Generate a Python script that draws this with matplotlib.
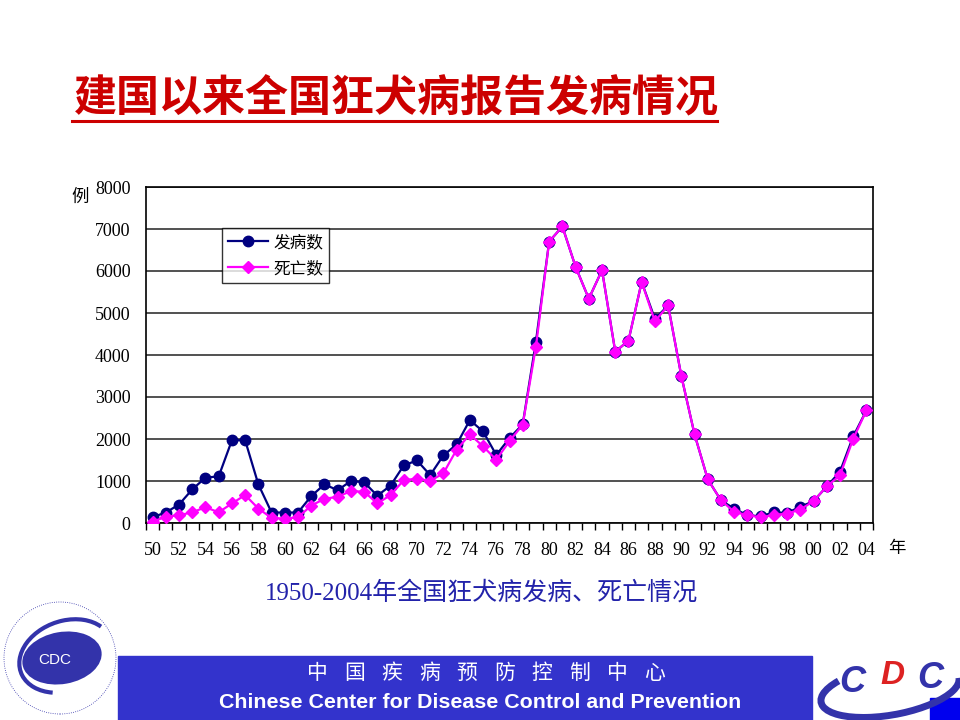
import matplotlib
matplotlib.use('Agg')
import matplotlib.pyplot as plt
from matplotlib.patches import Rectangle, Ellipse, Arc

plt.rcParams['font.family'] = ['Noto Sans CJK SC', 'DejaVu Sans']

# data (cases / deaths per year, 1950-2004)
years = list(range(1950, 2005))
tick_labels = ["%02d" % (y % 100) for y in years[::2]]
cases = [140, 250, 440, 800, 1080, 1110, 1970, 1970, 920, 250,
         250, 250, 640, 920, 780, 1000, 970, 650, 890, 1370,
         1490, 1140, 1610, 1870, 2450, 2180, 1620, 2020, 2350, 4320,
         6700, 7060, 6100, 5340, 6020, 4080, 4340, 5740, 4860, 5180,
         3500, 2110, 1040, 540, 340, 185, 160, 255, 240, 385,
         520, 870, 1220, 2060, 2680]
deaths = [30, 150, 185, 255, 375, 255, 465, 665, 345, 120,
          105, 135, 415, 575, 625, 760, 745, 465, 665, 1020,
          1055, 1000, 1185, 1745, 2110, 1825, 1505, 1950, 2340, 4200,
          6700, 7060, 6100, 5340, 6020, 4080, 4340, 5740, 4800, 5180,
          3500, 2110, 1040, 540, 265, 185, 135, 190, 225, 320,
          520, 870, 1135, 2000, 2680]
series_names = ["发病数", "死亡数"]
banner_cn = "中国疾病预防控制中心"

NUM_FONT = 'Liberation Serif'

fig = plt.figure(figsize=(9.6, 7.2), dpi=100)
fig.patch.set_facecolor('white')

# chart
ax = fig.add_axes([146 / 960, 197 / 720, 727 / 960, 336 / 720])
x = list(range(len(years)))
ax.plot(x, cases, color='#000080', lw=1.6, marker='o', ms=7.5,
        mfc='#000080', mec='#000080', label=series_names[0], zorder=3)
ax.plot(x, deaths, color='#FF00FF', lw=1.6, marker='D', ms=6.5,
        mfc='#FF00FF', mec='#FF00FF', label=series_names[1], zorder=4)

ax.set_xlim(-0.5, len(years) - 0.5)
ax.set_ylim(0, 8000)
ax.set_yticks(range(0, 8001, 1000))
ax.set_yticklabels([str(v) for v in range(0, 8001, 1000)], fontname=NUM_FONT, fontsize=13)
ax.set_xticks(x[::2])
ax.set_xticklabels(tick_labels, fontname=NUM_FONT, fontsize=13)
ax.set_xticks([i - 0.5 for i in range(len(years) + 1)], minor=True)
ax.tick_params(axis='x', which='major', length=0, pad=14)
ax.tick_params(axis='x', which='minor', length=5, direction='out', width=1)
ax.tick_params(axis='y', length=0, pad=11)
ax.yaxis.grid(True, color='#333333', lw=1.2)
ax.set_axisbelow(True)
for s in ax.spines.values():
    s.set_color('black')
    s.set_linewidth(1.2)

leg = ax.legend(loc='upper left', bbox_to_anchor=(76 / 727, 295 / 336),
                prop={'family': ['Noto Sans CJK SC'], 'size': 12},
                frameon=True, fancybox=False, edgecolor='black',
                borderpad=0.35, handlelength=2.4, labelspacing=0.55,
                handletextpad=0.35, borderaxespad=0)
leg.get_frame().set_linewidth(1.0)

fig.text(80 / 960, 1 - 197 / 720, "例", fontsize=12.5, ha='center', va='center')
fig.text(897 / 960, 1 - 548 / 720, "年", fontsize=12.5, ha='center', va='center')

# title with underline
fig.text(74 / 960, 1 - 98 / 720, "建国以来全国狂犬病报告发病情况", color='#CC0000',
         fontsize=31, fontweight='bold', ha='left', va='center')
fig.add_artist(plt.Line2D([72 / 960, 717 / 960], [1 - 121 / 720] * 2,
                          color='#CC0000', lw=2.2))

# caption
fig.text(481 / 960, 1 - 593 / 720, "1950-2004年全国狂犬病发病、死亡情况",
         color='#2222AA', fontsize=18, ha='center', va='center',
         family=[NUM_FONT, 'Noto Sans CJK SC'])

# bottom banner
fig.add_artist(Rectangle((118 / 960, 0), (812 - 118) / 960, 64 / 720,
                         transform=fig.transFigure, color='#3333CC', zorder=0))
for i, ch in enumerate(banner_cn):
    fig.text((317 + i * 37.5) / 960, 1 - 673 / 720, ch, color='white',
             fontsize=15, ha='center', va='center')
fig.text(480 / 960, 1 - 703 / 720, "Chinese Center for Disease Control and Prevention",
         color='white', fontsize=15.4, fontweight='bold', ha='center', va='center',
         family=['Liberation Sans'])

# left logo (rough)
lg = fig.add_axes([0, 0, 125 / 960, 130 / 720])
lg.set_xlim(0, 125)
lg.set_ylim(0, 130)
lg.axis('off')
lg.add_patch(Ellipse((60, 62), 112, 112, fill=False, ec='#3333AA', lw=0.6, ls=':'))
lg.add_patch(Ellipse((62, 62), 80, 52, fc='#3333AA', ec='none', angle=10))
lg.add_patch(Arc((66, 64), 96, 70, angle=20, theta1=20, theta2=230, color='#3333AA', lw=3))
lg.text(55, 60, "CDC", color='white', fontsize=11, ha='center', va='center',
        family=['Liberation Sans'])

# right logo (rough)
rg = fig.add_axes([812 / 960, 0, 148 / 960, 70 / 720])
rg.set_xlim(0, 148)
rg.set_ylim(0, 70)
rg.axis('off')
rg.add_patch(Rectangle((118, 0), 30, 22, color='#0000EE'))
rg.add_patch(Arc((78, 30), 140, 50, angle=10, theta1=160, theta2=360, color='#3333AA', lw=5))
rg.text(40, 38, "C", color='#3333AA', fontsize=26, fontweight='bold', fontstyle='italic',
        ha='center', va='center', family=['Liberation Sans'])
rg.text(80, 44, "D", color='#DD2222', fontsize=24, fontweight='bold', fontstyle='italic',
        ha='center', va='center', family=['Liberation Sans'])
rg.text(118, 42, "C", color='#3333AA', fontsize=26, fontweight='bold', fontstyle='italic',
        ha='center', va='center', family=['Liberation Sans'])

fig.savefig('out.png', dpi=100, facecolor='white')
